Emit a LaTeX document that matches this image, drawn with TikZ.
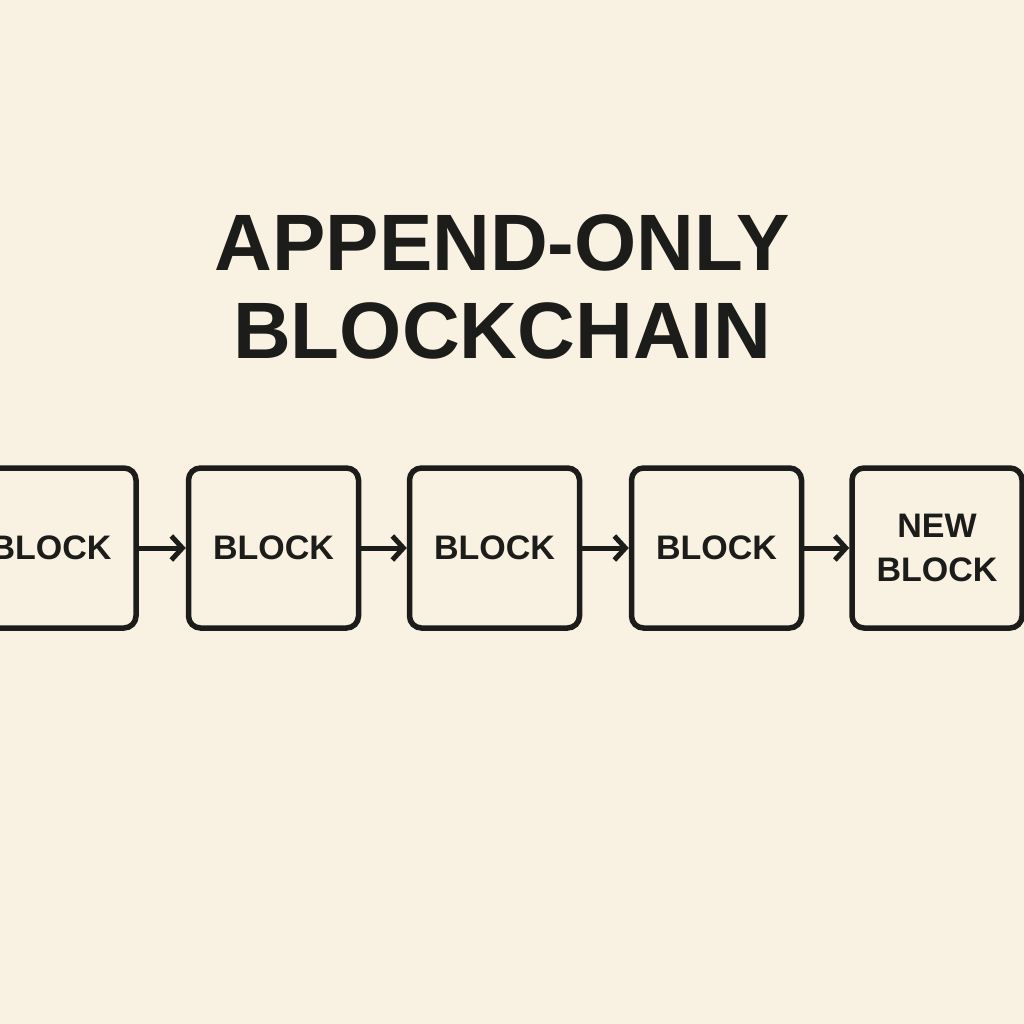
\documentclass[tikz,border=0pt]{standalone}
\usepackage{fontspec}
\setmainfont{Liberation Sans}
\usetikzlibrary{arrows.meta}
\definecolor{bg}{HTML}{F9F1E2}
\definecolor{ink}{HTML}{1C1C1A}
\begin{document}
\begin{tikzpicture}[x=1pt,y=-1pt,
  blk/.style={draw=ink,line width=5.5pt,rounded corners=12pt,minimum width=170pt,minimum height=160pt,inner sep=0pt,font=\fontsize{34}{40}\selectfont\bfseries,text=ink,align=center},
  link/.style={draw=ink,line width=5pt,-{Straight Barb[length=11pt,width=24pt,line width=5pt]}}]
\useasboundingbox (0,0) rectangle (1024,1024);
\clip (0,0) rectangle (1024,1024);
\fill[bg] (0,0) rectangle (1024,1024);
\node[font=\fontsize{80}{90}\selectfont\bfseries,text=ink,align=center] (title) at (502,287) {APPEND-ONLY\\[-2pt]BLOCKCHAIN};
\node[blk] (b1) at (51,548) {BLOCK};
\node[blk] (b2) at (273.5,548) {BLOCK};
\node[blk] (b3) at (494.5,548) {BLOCK};
\node[blk] (b4) at (716.5,548) {BLOCK};
\node[blk,font=\fontsize{34}{44}\selectfont\bfseries] (b5) at (937,548) {NEW\\BLOCK};
\draw[link] (b1.east) -- (b2.west);
\draw[link] (b2.east) -- (b3.west);
\draw[link] (b3.east) -- (b4.west);
\draw[link] (b4.east) -- (b5.west);
\end{tikzpicture}
\end{document}
